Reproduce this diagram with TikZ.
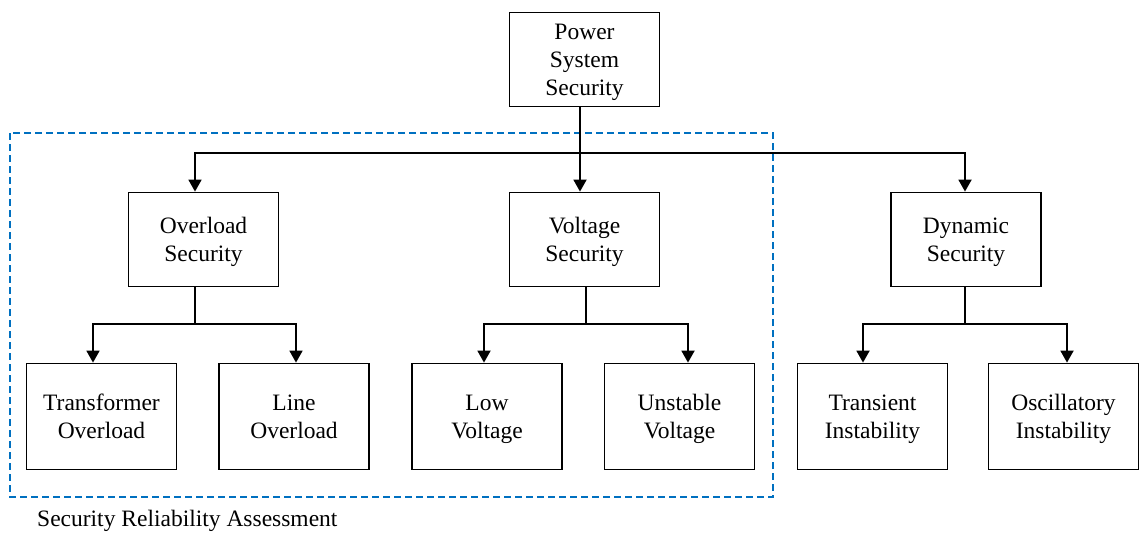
\documentclass[tikz,border=0pt]{standalone}
\usepackage{fontspec}
\setmainfont{Liberation Serif}
\usetikzlibrary{arrows.meta}
\definecolor{groupblue}{RGB}{0,112,192}
\tikzset{
  box/.style={draw=black, line width=1.8pt, fill=white, align=center,
    minimum width=150pt, inner sep=2pt, text depth=0pt,
    font=\fontsize{23.5}{28}\selectfont},
  midbox/.style={box, minimum height=94pt},
  leafbox/.style={box, minimum height=106pt},
  link/.style={line width=1.8pt, draw=black},
  tipboth/.style={link, {Triangle[length=12pt,width=13pt]}-{Triangle[length=12pt,width=13pt]}},
  tipend/.style={link, -{Triangle[length=12pt,width=13pt]}},
  group/.style={draw=groupblue, line width=1.8pt, dash pattern=on 7pt off 4pt},
  caption/.style={font=\fontsize{23.5}{28}\selectfont, inner sep=0pt}
}
\begin{document}
\begin{tikzpicture}[x=1pt, y=-1pt]
\useasboundingbox (0,0) rectangle (1139,533);

% group frame for the assessed categories
\draw[group] (10,133) rectangle (773,497);
\node[caption, anchor=base west] (cap) at (37,526) {Security Reliability Assessment};

% root
\node[midbox] (root) at (584.5,59.5) {Power\\System\\Security};

% second level
\node[midbox] (ovl) at (203.5,239.5) {Overload\\Security};
\node[midbox] (vol) at (584.5,239.5) {Voltage\\Security};
\node[midbox] (dyn) at (966,239.5) {Dynamic\\Security};

% leaves
\node[leafbox] (trf) at (101.5,416.5) {Transformer\\Overload};
\node[leafbox] (lin) at (294,416.5) {Line\\Overload};
\node[leafbox] (low) at (487,416.5) {Low\\Voltage};
\node[leafbox] (uns) at (679.5,416.5) {Unstable\\Voltage};
\node[leafbox] (tra) at (872.5,416.5) {Transient\\Instability};
\node[leafbox] (osc) at (1063.5,416.5) {Oscillatory\\Instability};

% branch points
\coordinate (r0) at (580,153);
\coordinate (rL) at (195,153);
\coordinate (rR) at (965,153);

\coordinate (o0) at (195,324);
\coordinate (oL) at (93,324);
\coordinate (oR) at (296,324);

\coordinate (v0) at (586,324);
\coordinate (vL) at (484,324);
\coordinate (vR) at (688,324);

\coordinate (d0) at (965,324);
\coordinate (dL) at (863,324);
\coordinate (dR) at (1067,324);

% root to second level
\draw[tipend] (root.south -| r0) -- (vol.north -| r0);
\draw[tipboth] (ovl.north -| rL) -- (rL) -- (rR) -- (dyn.north -| rR);

% second level to leaves
\draw[link] (ovl.south -| o0) -- (o0);
\draw[tipboth] (trf.north -| oL) -- (oL) -- (oR) -- (lin.north -| oR);

\draw[link] (vol.south -| v0) -- (v0);
\draw[tipboth] (low.north -| vL) -- (vL) -- (vR) -- (uns.north -| vR);

\draw[link] (dyn.south -| d0) -- (d0);
\draw[tipboth] (tra.north -| dL) -- (dL) -- (dR) -- (osc.north -| dR);
\end{tikzpicture}
\end{document}
